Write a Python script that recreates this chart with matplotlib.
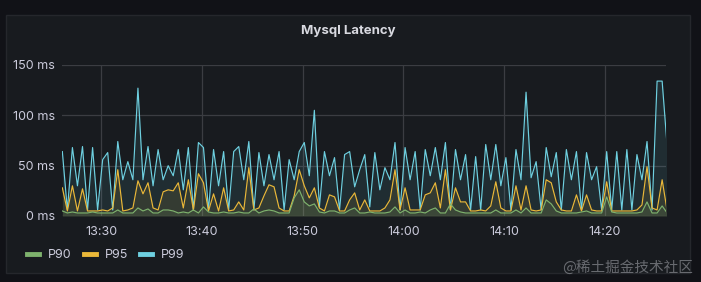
import numpy as np
import pandas as pd
import matplotlib
matplotlib.use("Agg")
import matplotlib.pyplot as plt
import matplotlib.dates as mdates
from matplotlib.lines import Line2D
from matplotlib.patches import Rectangle

plt.rcParams['font.family'] = ['Inter', 'DejaVu Sans']

# 30 s samples, 13:26 -> 14:26
times = pd.date_range("2023-01-01 13:26:10", periods=121, freq="30s")

p99 = [64, 6, 68, 30, 69, 6, 68, 6, 56, 63, 6, 74, 36, 54, 36, 127,
       36, 69, 30, 66, 36, 50, 40, 66, 26, 68, 6, 73, 68, 6, 66, 30, 64, 6, 64, 69, 36, 74, 6, 63,
       30, 61, 36, 64, 6, 56, 36, 64, 73, 40,
       105,
       9, 64, 40, 58, 6, 61, 64, 29, 46, 61, 9, 63, 26, 48, 36, 73, 6, 68, 36, 64, 6, 66, 40, 68, 36, 73, 6, 66, 36,
       61, 6, 59, 6, 71, 36, 71, 30, 58, 6, 66, 36, 123,
       38, 54, 6, 68, 39, 63, 6, 66, 36, 64, 6, 63, 36, 49, 6, 64, 6, 64, 6, 66, 6, 61, 36, 74, 6,
       134, 134, 69]

p95 = [28, 5, 30, 5, 27, 5, 5, 5, 6, 5, 8, 46, 5, 6, 8, 35, 22, 33, 8, 6,
       24, 26, 25, 33, 8, 36, 6, 42, 33, 5, 22, 5, 28, 5, 6, 14, 6, 48, 6, 8, 20,
       31, 29, 8, 5, 5, 20, 46, 30, 18, 28, 8, 5, 21, 19, 5, 5, 16, 23, 6, 16,
       5, 5, 5, 8, 16, 46, 6, 28, 6, 6, 6, 21, 23, 33, 8, 46, 6, 28, 14, 14,
       5, 5, 6, 5, 10, 34, 8, 5, 5, 30, 6, 30, 6, 5, 6, 36, 33, 14, 6, 5,
       5, 21, 5, 21, 6, 5, 5, 34, 5, 5, 5, 5, 5, 6, 11, 49, 8, 6, 36, 5]

p90 = [5, 3, 4, 3, 3, 3, 4, 3, 3, 3, 3, 6, 3, 3, 3, 8, 5, 7, 3, 3, 6,
       6, 5, 3, 4, 3, 6, 3, 9, 4, 3, 3, 4, 3, 3, 4, 3, 3, 7, 3, 5,
       6, 5, 3, 3, 3, 18, 26, 14, 10, 12, 4, 3, 5, 5, 3, 3, 6, 8, 3, 3,
       4, 3, 3, 3, 4, 9, 3, 6, 3, 3, 4, 3, 6, 8, 3, 3, 12, 6, 4, 3,
       3, 3, 3, 3, 3, 6, 3, 3, 3, 6, 3, 8, 3, 3, 3, 16, 12, 5, 3, 3,
       3, 3, 4, 5, 3, 3, 3, 19, 4, 3, 3, 3, 3, 3, 4, 14, 3, 3, 10, 3]

series = ["P90", "P95", "P99"]
colors = {"P90": "#7EB26D", "P95": "#EAB839", "P99": "#6ED0E0"}
values = {"P90": p90, "P95": p95, "P99": p99}

W, H = 701, 282
fig = plt.figure(figsize=(W / 100, H / 100), dpi=100)
fig.patch.set_facecolor("#111217")

# panel
fig.patches.append(Rectangle((6 / W, 1 - 273 / H), 684 / W, 258 / H, transform=fig.transFigure,
                             facecolor="#181b1f", edgecolor="#25272c", lw=1, zorder=-1))

ax = fig.add_axes([62 / W, 1 - 216 / H, 604 / W, 151 / H])
ax.set_zorder(2)
ax.set_facecolor("none")

for name in ["P99", "P95", "P90"]:
    ax.fill_between(times, 0, values[name], color=colors[name], alpha=0.1, lw=0)
    ax.plot(times, values[name], color=colors[name], lw=0.85)

ax.set_ylim(0, 150)
ax.set_yticks([0, 50, 100, 150])
ax.set_yticklabels(["0 ms", "50 ms", "100 ms", "150 ms"])
ax.set_xlim(pd.Timestamp("2023-01-01 13:26:08"), pd.Timestamp("2023-01-01 14:26:03"))
ax.xaxis.set_major_locator(mdates.MinuteLocator(byminute=[0, 10, 20, 30, 40, 50]))
ax.xaxis.set_major_formatter(mdates.DateFormatter("%H:%M"))

for s in ax.spines.values():
    s.set_visible(False)
ax.grid(True, color="#3b3d42", lw=0.9)
ax.set_axisbelow(True)
ax.tick_params(length=0, colors="#ccccdc", labelsize=9)
ax.tick_params(axis="y", pad=5)
ax.tick_params(axis="x", pad=7)

fig.text(348 / W, 1 - 31 / H, "Mysql Latency", ha="center", va="center",
         color="#d8d9e0", fontsize=9.5, fontweight="bold")

handles = [Line2D([], [], color=colors[n], lw=3.5) for n in series]
leg = fig.legend(handles, series, loc="center left", bbox_to_anchor=(27 / W, 1 - 255 / H),
                 ncol=3, frameon=False, fontsize=9, handlelength=0.95, handletextpad=0.7,
                 columnspacing=1.0, borderaxespad=0, borderpad=0)
for t in leg.get_texts():
    t.set_color("#ccccdc")

fig.text(693 / W, 1 - 267 / H, "@稀土掘金技术社区", ha="right", va="center",
         color="#8a8c92", alpha=0.7, fontsize=10.5,
         family=["Noto Sans CJK SC", "DejaVu Sans"])

fig.savefig("out.png", dpi=100, facecolor=fig.get_facecolor())
